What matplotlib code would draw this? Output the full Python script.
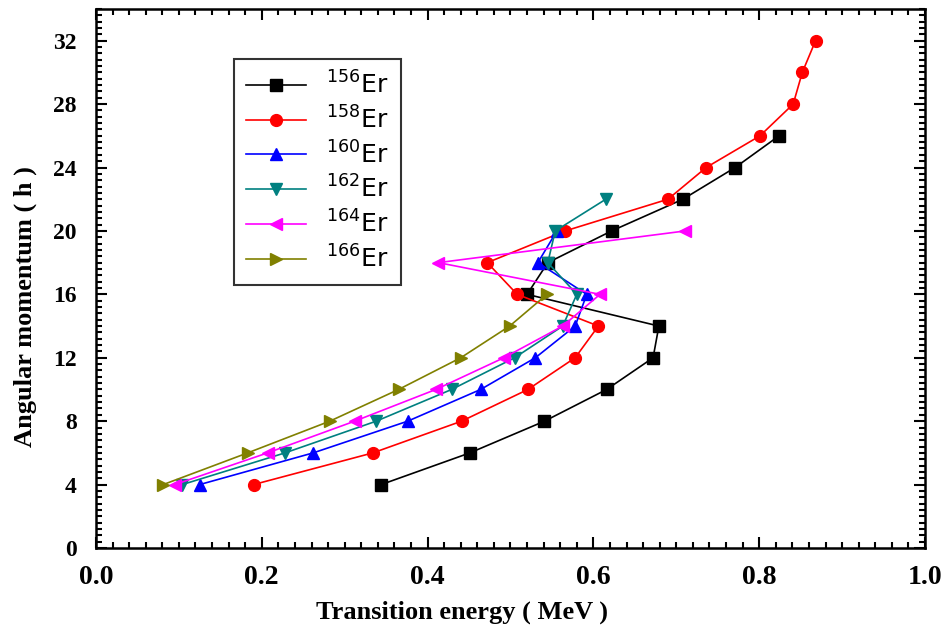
import matplotlib
matplotlib.use('Agg')
import matplotlib.pyplot as plt
from matplotlib.ticker import MultipleLocator

# spin values (hbar)
spin_156 = [4, 6, 8, 10, 12, 14, 16, 18, 20, 22, 24, 26]
spin_158 = [4, 6, 8, 10, 12, 14, 16, 18, 20, 22, 24, 26, 28, 30, 32]
spin_160 = [4, 6, 8, 10, 12, 14, 16, 18, 20]
spin_162 = [4, 6, 8, 10, 12, 14, 16, 18, 20, 22]
spin_164 = [4, 6, 8, 10, 12, 14, 16, 18, 20]
spin_166 = [4, 6, 8, 10, 12, 14, 16]

# transition energies (MeV)
e_156 = [0.344, 0.451, 0.541, 0.616, 0.672, 0.679, 0.520, 0.545, 0.622, 0.708, 0.771, 0.824]
e_158 = [0.190, 0.334, 0.441, 0.521, 0.578, 0.606, 0.508, 0.472, 0.566, 0.690, 0.736, 0.801, 0.841, 0.852, 0.868]
e_160 = [0.125, 0.262, 0.376, 0.464, 0.530, 0.578, 0.592, 0.533, 0.556]
e_162 = [0.104, 0.228, 0.338, 0.429, 0.505, 0.563, 0.580, 0.545, 0.554, 0.615]
e_164 = [0.095, 0.207, 0.312, 0.410, 0.492, 0.563, 0.608, 0.413, 0.711]
e_166 = [0.081, 0.183, 0.282, 0.365, 0.440, 0.499, 0.544]

series = [
    (e_156, spin_156, 'black', 's', '$^{156}$Er'),
    (e_158, spin_158, 'red', 'o', '$^{158}$Er'),
    (e_160, spin_160, 'blue', '^', '$^{160}$Er'),
    (e_162, spin_162, '#008080', 'v', '$^{162}$Er'),
    (e_164, spin_164, '#ff00ff', '<', '$^{164}$Er'),
    (e_166, spin_166, '#808000', '>', '$^{166}$Er'),
]

fig = plt.figure(figsize=(9.43, 6.32), dpi=100)
ax = fig.add_axes([0.1018, 0.1329, 0.8791, 0.8529])

for x, y, c, m, lab in series:
    ax.plot(x, y, color=c, marker=m, markersize=8.5, linewidth=1.2, label=lab)

ax.set_xlim(0, 1.0)
ax.set_ylim(0, 34)
ax.xaxis.set_major_locator(MultipleLocator(0.2))
ax.xaxis.set_minor_locator(MultipleLocator(0.02))
ax.yaxis.set_major_locator(MultipleLocator(4))
ax.yaxis.set_minor_locator(MultipleLocator(0.4))
ax.tick_params(which='both', direction='in', top=True, right=True, width=1.5)
ax.tick_params(which='major', length=8)
ax.tick_params(which='minor', length=4)
ax.tick_params(axis='x', pad=12, labelsize=20)
ax.tick_params(axis='y', pad=14, labelsize=17)
for s in ax.spines.values():
    s.set_linewidth(1.8)

serif = {'family': 'Liberation Serif', 'weight': 'bold'}
for t in ax.get_xticklabels() + ax.get_yticklabels():
    t.set_fontfamily('Liberation Serif')
    t.set_fontweight('bold')

ax.set_xlabel('Transition energy ( MeV )', fontsize=19, **serif)
ax.set_ylabel('Angular momentum ( h )', fontsize=19, **serif)
ax.xaxis.set_label_coords(0.441, -0.097)
ax.yaxis.set_label_coords(-0.071, 0.447)

leg = ax.legend(loc='upper left', bbox_to_anchor=(0.166, 0.907), fontsize=18,
                frameon=True, fancybox=False, handlelength=2.4, labelspacing=0.3,
                borderpad=0.5, handletextpad=0.8, borderaxespad=0)
leg.get_frame().set_edgecolor('black')
leg.get_frame().set_linewidth(1.5)

fig.savefig('out.png', dpi=100)
